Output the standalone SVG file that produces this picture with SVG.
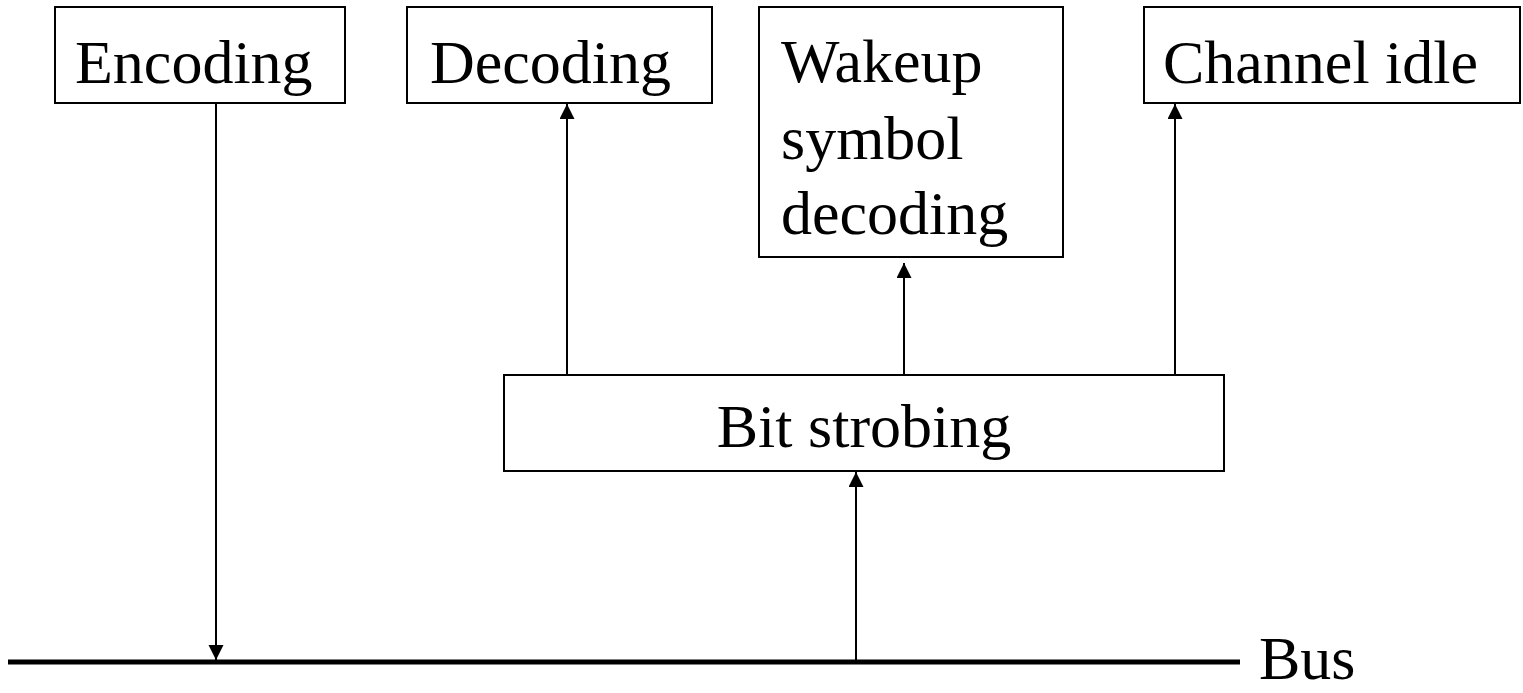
<svg xmlns="http://www.w3.org/2000/svg" width="1523" height="693" viewBox="0 0 1523 693">
<style>
.box{fill:#fff;stroke:#000;stroke-width:2}
.lbl{font-family:"Liberation Serif","Times New Roman",serif;font-size:62px;fill:#000}
.con{stroke:#000;stroke-width:2;fill:none}
</style>
<defs>
<marker id="ah" markerUnits="userSpaceOnUse" markerWidth="16" markerHeight="16" refX="15" refY="7.5" orient="auto">
<path d="M0,0 L15,7.5 L0,15 Z" fill="#000"/>
</marker>
</defs>
<rect width="1523" height="693" fill="#fff"/>
<g id="encoding">
<rect class="box" x="55" y="7" width="290" height="96"/>
<text class="lbl" x="75" y="83">Encoding</text>
</g>
<g id="decoding">
<rect class="box" x="407" y="7" width="305" height="96"/>
<text class="lbl" x="430" y="83">Decoding</text>
</g>
<g id="wakeup">
<rect class="box" x="759" y="7" width="304" height="250"/>
<text class="lbl" x="781" y="82">Wakeup</text>
<text class="lbl" x="781" y="159">symbol</text>
<text class="lbl" x="781" y="234">decoding</text>
</g>
<g id="channel-idle">
<rect class="box" x="1144" y="7" width="376" height="96"/>
<text class="lbl" x="1163" y="83">Channel idle</text>
</g>
<g id="bit-strobing">
<rect class="box" x="504" y="375" width="720" height="96"/>
<text class="lbl" x="864" y="447" text-anchor="middle">Bit strobing</text>
</g>
<g id="bus">
<line x1="8" y1="662" x2="1240" y2="662" stroke="#000" stroke-width="5"/>
<text class="lbl" x="1259" y="679">Bus</text>
</g>
<g id="connectors">
<line class="con" x1="216" y1="103" x2="216" y2="660" marker-end="url(#ah)"/>
<line class="con" x1="567" y1="375" x2="567" y2="104" marker-end="url(#ah)"/>
<line class="con" x1="904" y1="375" x2="904" y2="263" marker-end="url(#ah)"/>
<line class="con" x1="1175" y1="375" x2="1175" y2="104" marker-end="url(#ah)"/>
<line class="con" x1="856" y1="660" x2="856" y2="472" marker-end="url(#ah)"/>
</g>
</svg>
